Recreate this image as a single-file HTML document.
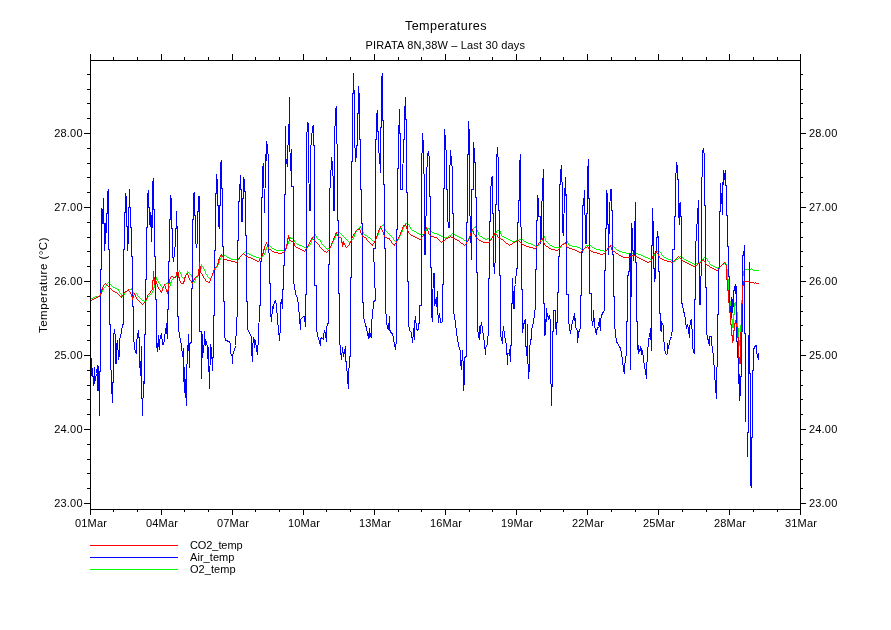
<!DOCTYPE html>
<html lang="en"><head><meta charset="utf-8"><title>Temperatures</title>
<style>html,body{margin:0;padding:0;background:#fff}body{width:891px;height:630px;overflow:hidden}svg{display:block}text{font-family:"Liberation Sans",sans-serif;fill:#000}</style></head><body>
<svg width="891" height="630" viewBox="0 0 891 630">
<rect width="891" height="630" fill="#fff"/>
<g fill="none" stroke-width="1" shape-rendering="crispEdges" stroke-linejoin="miter" stroke-linecap="square">
<path stroke="none" fill="#0f0" d="M91,298h1v1h-1zM92,298h1v1h-1zM93,297h1v1h-1zM94,297h1v1h-1zM95,296h1v1h-1zM96,296h1v1h-1zM97,296h1v1h-1zM98,296h1v1h-1zM99,295h1v1h-1zM100,294h1v2h-1zM101,292h1v2h-1zM102,290h1v2h-1zM103,288h1v2h-1zM104,287h1v1h-1zM105,286h1v1h-1zM106,284h1v2h-1zM107,283h1v1h-1zM108,282h1v1h-1zM109,283h1v1h-1zM110,284h1v1h-1zM111,285h1v1h-1zM112,286h1v1h-1zM113,287h1v1h-1zM114,287h1v1h-1zM115,288h1v1h-1zM116,288h1v1h-1zM117,289h1v1h-1zM118,289h1v2h-1zM119,291h1v2h-1zM120,293h1v1h-1zM121,294h1v2h-1zM122,296h1v1h-1zM123,295h1v1h-1zM124,293h1v2h-1zM125,292h1v1h-1zM126,291h1v1h-1zM127,290h1v1h-1zM128,290h1v1h-1zM129,289h1v1h-1zM130,289h1v1h-1zM131,288h1v2h-1zM132,290h1v2h-1zM133,292h1v2h-1zM134,294h1v1h-1zM135,294h1v1h-1zM136,293h1v1h-1zM137,294h1v2h-1zM138,296h1v1h-1zM139,297h1v1h-1zM140,298h1v1h-1zM141,299h1v1h-1zM142,300h1v1h-1zM143,300h1v1h-1zM144,301h1v1h-1zM145,301h1v2h-1zM146,299h1v2h-1zM147,297h1v2h-1zM148,296h1v1h-1zM149,295h1v1h-1zM150,294h1v1h-1zM151,293h1v1h-1zM152,291h1v2h-1zM153,287h1v4h-1zM154,283h1v5h-1zM155,279h1v5h-1zM156,277h1v3h-1zM157,279h1v2h-1zM158,281h1v2h-1zM159,283h1v1h-1zM160,284h1v2h-1zM161,286h1v1h-1zM162,287h1v1h-1zM163,286h1v1h-1zM164,285h1v1h-1zM165,284h1v1h-1zM166,283h1v1h-1zM167,282h1v2h-1zM168,284h1v3h-1zM169,286h1v2h-1zM170,282h1v4h-1zM171,280h1v3h-1zM172,279h1v1h-1zM173,278h1v1h-1zM174,277h1v1h-1zM175,276h1v1h-1zM176,276h1v1h-1zM177,274h1v2h-1zM178,272h1v2h-1zM179,270h1v2h-1zM180,272h1v2h-1zM181,274h1v3h-1zM182,277h1v1h-1zM183,278h1v1h-1zM184,278h1v2h-1zM185,275h1v3h-1zM186,273h1v2h-1zM187,271h1v2h-1zM188,272h1v1h-1zM189,273h1v1h-1zM190,274h1v1h-1zM191,275h1v2h-1zM192,277h1v2h-1zM193,279h1v3h-1zM194,281h1v2h-1zM195,278h1v3h-1zM196,276h1v2h-1zM197,275h1v1h-1zM198,273h1v2h-1zM199,272h1v1h-1zM200,268h1v4h-1zM201,264h1v5h-1zM202,266h1v1h-1zM203,267h1v2h-1zM204,269h1v2h-1zM205,271h1v3h-1zM206,274h1v1h-1zM207,275h1v2h-1zM208,277h1v1h-1zM209,278h1v1h-1zM210,278h1v2h-1zM211,276h1v2h-1zM212,274h1v2h-1zM213,272h1v2h-1zM214,270h1v2h-1zM215,268h1v2h-1zM216,267h1v1h-1zM217,265h1v2h-1zM218,263h1v2h-1zM219,260h1v3h-1zM220,258h1v2h-1zM221,256h1v2h-1zM222,255h1v1h-1zM223,254h1v1h-1zM224,255h1v1h-1zM225,255h1v1h-1zM226,256h1v1h-1zM227,257h1v1h-1zM228,257h1v1h-1zM229,258h1v1h-1zM230,258h1v1h-1zM231,259h1v1h-1zM232,259h1v1h-1zM233,259h1v1h-1zM234,259h1v1h-1zM235,259h1v1h-1zM236,259h1v1h-1zM237,259h1v1h-1zM238,258h1v1h-1zM239,257h1v1h-1zM240,256h1v1h-1zM241,255h1v1h-1zM242,254h1v1h-1zM243,253h1v1h-1zM244,252h1v1h-1zM245,251h1v1h-1zM246,252h1v1h-1zM247,253h1v1h-1zM248,253h1v1h-1zM249,254h1v1h-1zM250,254h1v1h-1zM251,255h1v1h-1zM252,255h1v1h-1zM253,256h1v1h-1zM254,256h1v1h-1zM255,256h1v1h-1zM256,257h1v1h-1zM257,257h1v1h-1zM258,257h1v1h-1zM259,258h1v1h-1zM260,258h1v1h-1zM261,257h1v1h-1zM262,256h1v1h-1zM263,255h1v1h-1zM264,253h1v2h-1zM265,249h1v4h-1zM266,247h1v3h-1zM267,245h1v2h-1zM268,244h1v1h-1zM269,245h1v1h-1zM270,246h1v1h-1zM271,247h1v1h-1zM272,248h1v1h-1zM273,248h1v1h-1zM274,249h1v1h-1zM275,249h1v1h-1zM276,250h1v1h-1zM277,250h1v1h-1zM278,250h1v1h-1zM279,250h1v1h-1zM280,250h1v1h-1zM281,250h1v1h-1zM282,250h1v1h-1zM283,250h1v1h-1zM284,249h1v1h-1zM285,248h1v1h-1zM286,246h1v2h-1zM287,244h1v2h-1zM288,241h1v3h-1zM289,239h1v2h-1zM290,237h1v2h-1zM291,238h1v1h-1zM292,238h1v1h-1zM293,239h1v1h-1zM294,240h1v2h-1zM295,242h1v1h-1zM296,243h1v1h-1zM297,244h1v1h-1zM298,244h1v1h-1zM299,245h1v1h-1zM300,245h1v1h-1zM301,245h1v1h-1zM302,246h1v1h-1zM303,246h1v1h-1zM304,247h1v1h-1zM305,247h1v1h-1zM306,248h1v1h-1zM307,247h1v1h-1zM308,246h1v1h-1zM309,245h1v1h-1zM310,243h1v2h-1zM311,240h1v3h-1zM312,238h1v2h-1zM313,236h1v2h-1zM314,235h1v1h-1zM315,234h1v2h-1zM316,236h1v2h-1zM317,238h1v1h-1zM318,239h1v1h-1zM319,239h1v1h-1zM320,240h1v2h-1zM321,242h1v2h-1zM322,244h1v1h-1zM323,245h1v1h-1zM324,246h1v1h-1zM325,247h1v1h-1zM326,248h1v1h-1zM327,249h1v1h-1zM328,248h1v1h-1zM329,248h1v1h-1zM330,246h1v2h-1zM331,244h1v2h-1zM332,242h1v2h-1zM333,240h1v2h-1zM334,238h1v2h-1zM335,236h1v2h-1zM336,233h1v3h-1zM337,232h1v1h-1zM338,232h1v1h-1zM339,232h1v1h-1zM340,233h1v1h-1zM341,234h1v1h-1zM342,235h1v1h-1zM343,236h1v1h-1zM344,237h1v1h-1zM345,238h1v1h-1zM346,239h1v1h-1zM347,240h1v1h-1zM348,241h1v1h-1zM349,242h1v1h-1zM350,241h1v1h-1zM351,240h1v1h-1zM352,239h1v1h-1zM353,237h1v2h-1zM354,234h1v3h-1zM355,232h1v2h-1zM356,230h1v2h-1zM357,229h1v1h-1zM358,228h1v1h-1zM359,227h1v1h-1zM360,226h1v2h-1zM361,228h1v2h-1zM362,230h1v2h-1zM363,232h1v2h-1zM364,234h1v1h-1zM365,235h1v1h-1zM366,235h1v1h-1zM367,236h1v1h-1zM368,237h1v1h-1zM369,237h1v1h-1zM370,238h1v1h-1zM371,239h1v1h-1zM372,240h1v1h-1zM373,241h1v1h-1zM374,241h1v2h-1zM375,239h1v2h-1zM376,237h1v2h-1zM377,235h1v2h-1zM378,232h1v3h-1zM379,229h1v3h-1zM380,227h1v2h-1zM381,226h1v1h-1zM382,225h1v1h-1zM383,224h1v2h-1zM384,226h1v3h-1zM385,229h1v2h-1zM386,231h1v1h-1zM387,232h1v1h-1zM388,233h1v1h-1zM389,234h1v1h-1zM390,235h1v1h-1zM391,236h1v1h-1zM392,237h1v1h-1zM393,238h1v2h-1zM394,240h1v1h-1zM395,241h1v1h-1zM396,241h1v2h-1zM397,240h1v1h-1zM398,238h1v2h-1zM399,236h1v2h-1zM400,234h1v2h-1zM401,232h1v2h-1zM402,229h1v3h-1zM403,227h1v2h-1zM404,225h1v2h-1zM405,223h1v2h-1zM406,223h1v1h-1zM407,222h1v2h-1zM408,224h1v1h-1zM409,225h1v2h-1zM410,227h1v2h-1zM411,229h1v1h-1zM412,230h1v1h-1zM413,230h1v1h-1zM414,231h1v1h-1zM415,231h1v1h-1zM416,232h1v1h-1zM417,233h1v1h-1zM418,233h1v1h-1zM419,234h1v1h-1zM420,234h1v1h-1zM421,235h1v1h-1zM422,234h1v1h-1zM423,234h1v1h-1zM424,232h1v2h-1zM425,231h1v1h-1zM426,229h1v2h-1zM427,228h1v1h-1zM428,228h1v1h-1zM429,228h1v2h-1zM430,230h1v1h-1zM431,231h1v1h-1zM432,232h1v1h-1zM433,232h1v1h-1zM434,233h1v1h-1zM435,233h1v1h-1zM436,233h1v1h-1zM437,234h1v1h-1zM438,234h1v1h-1zM439,235h1v1h-1zM440,235h1v1h-1zM441,236h1v1h-1zM442,236h1v1h-1zM443,237h1v1h-1zM444,237h1v1h-1zM445,238h1v1h-1zM446,237h1v1h-1zM447,237h1v1h-1zM448,236h1v1h-1zM449,235h1v1h-1zM450,235h1v1h-1zM451,234h1v1h-1zM452,233h1v1h-1zM453,234h1v1h-1zM454,234h1v1h-1zM455,235h1v1h-1zM456,235h1v1h-1zM457,236h1v1h-1zM458,236h1v1h-1zM459,237h1v1h-1zM460,237h1v1h-1zM461,238h1v1h-1zM462,238h1v1h-1zM463,239h1v1h-1zM464,240h1v1h-1zM465,240h1v1h-1zM466,241h1v1h-1zM467,240h1v1h-1zM468,238h1v2h-1zM469,237h1v1h-1zM470,235h1v2h-1zM471,231h1v4h-1zM472,229h1v3h-1zM473,228h1v1h-1zM474,227h1v1h-1zM475,226h1v2h-1zM476,228h1v2h-1zM477,230h1v2h-1zM478,232h1v3h-1zM479,235h1v1h-1zM480,236h1v1h-1zM481,236h1v1h-1zM482,237h1v1h-1zM483,238h1v1h-1zM484,238h1v1h-1zM485,239h1v1h-1zM486,239h1v1h-1zM487,238h1v1h-1zM488,238h1v1h-1zM489,239h1v1h-1zM490,239h1v1h-1zM491,238h1v1h-1zM492,237h1v1h-1zM493,236h1v1h-1zM494,234h1v2h-1zM495,233h1v1h-1zM496,231h1v2h-1zM497,230h1v1h-1zM498,230h1v1h-1zM499,229h1v2h-1zM500,231h1v3h-1zM501,234h1v2h-1zM502,236h1v1h-1zM503,236h1v1h-1zM504,237h1v1h-1zM505,237h1v1h-1zM506,238h1v1h-1zM507,238h1v1h-1zM508,239h1v1h-1zM509,239h1v1h-1zM510,240h1v1h-1zM511,240h1v1h-1zM512,241h1v1h-1zM513,241h1v1h-1zM514,241h1v1h-1zM515,241h1v1h-1zM516,240h1v1h-1zM517,240h1v1h-1zM518,240h1v1h-1zM519,239h1v1h-1zM520,239h1v1h-1zM521,238h1v1h-1zM522,239h1v1h-1zM523,240h1v1h-1zM524,241h1v1h-1zM525,241h1v1h-1zM526,242h1v1h-1zM527,242h1v1h-1zM528,243h1v1h-1zM529,243h1v1h-1zM530,243h1v1h-1zM531,244h1v1h-1zM532,244h1v1h-1zM533,245h1v1h-1zM534,245h1v1h-1zM535,246h1v1h-1zM536,246h1v1h-1zM537,245h1v1h-1zM538,245h1v1h-1zM539,244h1v1h-1zM540,242h1v2h-1zM541,241h1v1h-1zM542,239h1v2h-1zM543,237h1v2h-1zM544,236h1v2h-1zM545,238h1v3h-1zM546,241h1v1h-1zM547,242h1v1h-1zM548,243h1v1h-1zM549,244h1v1h-1zM550,245h1v1h-1zM551,245h1v1h-1zM552,246h1v1h-1zM553,246h1v1h-1zM554,247h1v1h-1zM555,247h1v1h-1zM556,247h1v1h-1zM557,247h1v1h-1zM558,247h1v1h-1zM559,247h1v1h-1zM560,247h1v1h-1zM561,245h1v2h-1zM562,244h1v1h-1zM563,243h1v1h-1zM564,243h1v1h-1zM565,242h1v1h-1zM566,242h1v1h-1zM567,241h1v2h-1zM568,243h1v2h-1zM569,245h1v1h-1zM570,245h1v1h-1zM571,245h1v1h-1zM572,246h1v1h-1zM573,246h1v1h-1zM574,246h1v1h-1zM575,246h1v1h-1zM576,246h1v1h-1zM577,247h1v1h-1zM578,247h1v1h-1zM579,247h1v1h-1zM580,248h1v1h-1zM581,249h1v1h-1zM582,249h1v1h-1zM583,249h1v2h-1zM584,248h1v1h-1zM585,246h1v2h-1zM586,245h1v1h-1zM587,245h1v1h-1zM588,245h1v1h-1zM589,245h1v1h-1zM590,245h1v1h-1zM591,246h1v1h-1zM592,247h1v1h-1zM593,247h1v1h-1zM594,248h1v1h-1zM595,248h1v1h-1zM596,249h1v1h-1zM597,249h1v1h-1zM598,249h1v1h-1zM599,249h1v1h-1zM600,250h1v1h-1zM601,250h1v1h-1zM602,250h1v1h-1zM603,250h1v1h-1zM604,251h1v1h-1zM605,251h1v1h-1zM606,250h1v1h-1zM607,249h1v1h-1zM608,248h1v1h-1zM609,247h1v1h-1zM610,246h1v1h-1zM611,245h1v1h-1zM612,246h1v1h-1zM613,246h1v1h-1zM614,247h1v1h-1zM615,248h1v1h-1zM616,249h1v1h-1zM617,250h1v1h-1zM618,250h1v1h-1zM619,251h1v1h-1zM620,251h1v1h-1zM621,251h1v1h-1zM622,252h1v1h-1zM623,252h1v1h-1zM624,252h1v1h-1zM625,252h1v1h-1zM626,253h1v1h-1zM627,253h1v1h-1zM628,253h1v1h-1zM629,253h1v1h-1zM630,253h1v1h-1zM631,253h1v1h-1zM632,253h1v1h-1zM633,253h1v1h-1zM634,253h1v1h-1zM635,253h1v1h-1zM636,253h1v1h-1zM637,253h1v1h-1zM638,254h1v1h-1zM639,254h1v1h-1zM640,254h1v1h-1zM641,255h1v1h-1zM642,255h1v1h-1zM643,256h1v1h-1zM644,256h1v1h-1zM645,257h1v1h-1zM646,257h1v1h-1zM647,257h1v1h-1zM648,258h1v1h-1zM649,258h1v1h-1zM650,259h1v1h-1zM651,259h1v1h-1zM652,257h1v2h-1zM653,256h1v1h-1zM654,254h1v2h-1zM655,252h1v2h-1zM656,251h1v1h-1zM657,251h1v1h-1zM658,250h1v1h-1zM659,251h1v1h-1zM660,252h1v1h-1zM661,253h1v2h-1zM662,255h1v1h-1zM663,256h1v1h-1zM664,257h1v1h-1zM665,257h1v1h-1zM666,258h1v1h-1zM667,258h1v1h-1zM668,259h1v1h-1zM669,259h1v1h-1zM670,259h1v1h-1zM671,260h1v1h-1zM672,260h1v1h-1zM673,261h1v1h-1zM674,261h1v1h-1zM675,260h1v1h-1zM676,259h1v1h-1zM677,259h1v1h-1zM678,258h1v1h-1zM679,257h1v1h-1zM680,256h1v1h-1zM681,257h1v1h-1zM682,257h1v1h-1zM683,258h1v1h-1zM684,259h1v1h-1zM685,259h1v1h-1zM686,260h1v1h-1zM687,260h1v1h-1zM688,261h1v1h-1zM689,261h1v1h-1zM690,262h1v1h-1zM691,262h1v1h-1zM692,263h1v1h-1zM693,263h1v1h-1zM694,264h1v1h-1zM695,264h1v1h-1zM696,263h1v1h-1zM697,263h1v1h-1zM698,262h1v1h-1zM699,262h1v1h-1zM700,261h1v1h-1zM701,260h1v1h-1zM702,259h1v1h-1zM703,258h1v1h-1zM704,257h1v1h-1zM705,256h1v2h-1zM706,258h1v1h-1zM707,259h1v2h-1zM708,261h1v1h-1zM709,262h1v2h-1zM710,264h1v1h-1zM711,265h1v1h-1zM712,265h1v1h-1zM713,266h1v1h-1zM714,266h1v1h-1zM715,267h1v1h-1zM716,267h1v1h-1zM717,268h1v1h-1zM718,267h1v1h-1zM719,266h1v1h-1zM720,266h1v1h-1zM721,265h1v1h-1zM722,264h1v1h-1zM723,264h1v1h-1zM724,263h1v1h-1zM725,262h1v2h-1zM726,264h1v6h-1zM727,269h1v11h-1zM728,279h1v13h-1zM729,291h1v11h-1zM730,301h1v9h-1zM731,309h1v11h-1zM732,319h1v9h-1zM733,314h1v14h-1zM734,303h1v12h-1zM735,302h1v4h-1zM736,305h1v8h-1zM737,312h1v17h-1zM738,328h1v13h-1zM739,340h1v6h-1zM740,325h1v21h-1zM741,300h1v26h-1zM742,276h1v25h-1zM743,271h1v5h-1zM744,269h1v2h-1zM745,269h1v1h-1zM746,269h1v1h-1zM747,269h1v1h-1zM748,269h1v1h-1zM749,269h1v1h-1zM750,269h1v1h-1zM751,268h1v1h-1zM752,269h1v1h-1zM753,270h1v1h-1zM754,270h1v1h-1zM755,270h1v1h-1zM756,270h1v1h-1zM757,270h1v1h-1zM758,270h1v1h-1z"/>
<polyline stroke="#00f" points="90.5,351.5 91.5,363.5 91.5,375.5 92.5,368.5 93.5,385.5 94.5,367.5 94.5,383.5 96.5,373.5 97.5,365.5 97.5,390.5 98.5,366.5 99.5,415.5 99.5,371.5 100.5,371.5 100.5,269.5 101.5,269.5 101.5,208.5 102.5,210.5 102.5,223.5 103.5,223.5 103.5,197.5 103.5,223.5 104.5,223.5 104.5,250.5 105.5,238.5 105.5,223.5 106.5,232.5 106.5,213.5 107.5,213.5 107.5,193.5 108.5,189.5 108.5,249.5 109.5,249.5 109.5,324.5 110.5,324.5 110.5,353.5 111.5,385.5 112.5,402.5 113.5,363.5 113.5,337.5 114.5,329.5 115.5,337.5 115.5,363.5 116.5,363.5 116.5,345.5 117.5,340.5 118.5,359.5 119.5,354.5 119.5,340.5 121.5,331.5 122.5,324.5 123.5,324.5 123.5,249.5 124.5,249.5 124.5,212.5 125.5,212.5 125.5,193.5 126.5,199.5 126.5,226.5 127.5,226.5 127.5,250.5 128.5,238.5 128.5,207.5 129.5,207.5 129.5,188.5 129.5,207.5 130.5,207.5 130.5,227.5 131.5,227.5 131.5,256.5 132.5,256.5 132.5,306.5 133.5,306.5 133.5,334.5 134.5,348.5 135.5,351.5 136.5,353.5 136.5,342.5 137.5,335.5 138.5,330.5 138.5,337.5 139.5,337.5 139.5,359.5 140.5,375.5 141.5,346.5 141.5,381.5 142.5,415.5 143.5,381.5 143.5,396.5 144.5,371.5 144.5,334.5 145.5,334.5 145.5,279.5 146.5,279.5 146.5,227.5 147.5,227.5 147.5,195.5 148.5,190.5 148.5,207.5 149.5,207.5 149.5,224.5 150.5,212.5 150.5,226.5 151.5,215.5 151.5,241.5 152.5,215.5 152.5,184.5 153.5,178.5 153.5,209.5 154.5,209.5 154.5,256.5 155.5,256.5 155.5,299.5 156.5,299.5 156.5,344.5 157.5,351.5 158.5,335.5 158.5,343.5 159.5,349.5 159.5,342.5 160.5,336.5 161.5,333.5 162.5,344.5 163.5,344.5 164.5,340.5 165.5,328.5 166.5,333.5 166.5,323.5 167.5,338.5 167.5,309.5 168.5,309.5 168.5,261.5 169.5,261.5 169.5,219.5 170.5,219.5 170.5,195.5 171.5,200.5 171.5,228.5 172.5,228.5 172.5,253.5 173.5,261.5 174.5,253.5 175.5,240.5 175.5,228.5 176.5,228.5 176.5,211.5 177.5,240.5 177.5,316.5 178.5,316.5 178.5,329.5 179.5,334.5 180.5,340.5 181.5,345.5 182.5,356.5 183.5,348.5 183.5,371.5 184.5,392.5 184.5,367.5 185.5,390.5 186.5,405.5 186.5,373.5 188.5,336.5 188.5,334.5 189.5,367.5 189.5,343.5 191.5,342.5 191.5,334.5 191.5,288.5 192.5,288.5 192.5,219.5 193.5,219.5 193.5,194.5 194.5,192.5 194.5,215.5 195.5,215.5 195.5,240.5 196.5,247.5 197.5,240.5 197.5,211.5 198.5,211.5 198.5,196.5 199.5,196.5 199.5,331.5 201.5,331.5 201.5,378.5 201.5,332.5 202.5,335.5 202.5,357.5 204.5,340.5 204.5,331.5 205.5,345.5 206.5,342.5 207.5,346.5 208.5,371.5 208.5,347.5 209.5,388.5 210.5,344.5 210.5,361.5 211.5,347.5 212.5,370.5 212.5,357.5 213.5,357.5 213.5,315.5 214.5,315.5 214.5,250.5 215.5,250.5 215.5,193.5 216.5,193.5 216.5,174.5 217.5,182.5 217.5,205.5 218.5,205.5 218.5,224.5 219.5,228.5 219.5,205.5 220.5,205.5 220.5,163.5 221.5,160.5 221.5,188.5 222.5,188.5 222.5,246.5 223.5,246.5 223.5,301.5 224.5,301.5 224.5,334.5 225.5,340.5 229.5,341.5 230.5,344.5 230.5,353.5 232.5,356.5 232.5,363.5 232.5,356.5 233.5,351.5 234.5,350.5 235.5,345.5 236.5,327.5 237.5,306.5 237.5,240.5 238.5,240.5 238.5,201.5 239.5,201.5 239.5,184.5 240.5,184.5 240.5,174.5 240.5,189.5 241.5,189.5 241.5,221.5 242.5,221.5 242.5,198.5 243.5,198.5 243.5,177.5 244.5,180.5 244.5,191.5 245.5,191.5 245.5,235.5 246.5,235.5 246.5,301.5 247.5,301.5 247.5,329.5 249.5,332.5 251.5,337.5 251.5,349.5 252.5,361.5 252.5,349.5 253.5,337.5 254.5,347.5 254.5,339.5 255.5,340.5 256.5,349.5 257.5,354.5 257.5,349.5 258.5,340.5 259.5,305.5 260.5,305.5 260.5,261.5 261.5,261.5 261.5,197.5 262.5,197.5 262.5,169.5 263.5,163.5 264.5,212.5 265.5,166.5 266.5,141.5 266.5,160.5 267.5,144.5 268.5,162.5 268.5,218.5 269.5,283.5 270.5,283.5 270.5,312.5 271.5,321.5 272.5,306.5 272.5,311.5 274.5,301.5 275.5,300.5 276.5,305.5 277.5,320.5 278.5,329.5 279.5,340.5 280.5,325.5 280.5,305.5 281.5,299.5 282.5,308.5 282.5,290.5 283.5,288.5 283.5,265.5 284.5,265.5 284.5,194.5 285.5,194.5 285.5,125.5 285.5,169.5 286.5,159.5 287.5,166.5 288.5,125.5 288.5,124.5 289.5,124.5 289.5,96.5 289.5,133.5 290.5,170.5 291.5,149.5 291.5,186.5 293.5,186.5 293.5,280.5 294.5,286.5 295.5,293.5 297.5,298.5 298.5,305.5 299.5,317.5 300.5,329.5 300.5,319.5 302.5,317.5 303.5,316.5 304.5,316.5 305.5,326.5 305.5,294.5 306.5,294.5 306.5,141.5 307.5,122.5 308.5,123.5 308.5,155.5 309.5,210.5 310.5,210.5 310.5,151.5 312.5,127.5 313.5,125.5 313.5,145.5 314.5,145.5 314.5,285.5 316.5,285.5 316.5,327.5 317.5,335.5 318.5,338.5 320.5,345.5 320.5,339.5 321.5,337.5 323.5,339.5 323.5,334.5 324.5,331.5 325.5,333.5 326.5,341.5 326.5,328.5 327.5,323.5 328.5,323.5 328.5,264.5 329.5,264.5 329.5,192.5 330.5,183.5 331.5,157.5 332.5,163.5 333.5,188.5 333.5,210.5 334.5,210.5 334.5,142.5 335.5,110.5 336.5,106.5 336.5,142.5 337.5,145.5 337.5,220.5 338.5,220.5 338.5,293.5 339.5,293.5 339.5,339.5 340.5,350.5 341.5,359.5 342.5,347.5 343.5,356.5 345.5,346.5 345.5,360.5 346.5,362.5 347.5,379.5 348.5,388.5 348.5,379.5 349.5,356.5 350.5,356.5 350.5,277.5 351.5,277.5 351.5,161.5 352.5,161.5 352.5,93.5 353.5,93.5 353.5,72.5 353.5,90.5 354.5,90.5 354.5,134.5 355.5,161.5 356.5,155.5 356.5,145.5 357.5,145.5 357.5,113.5 358.5,113.5 358.5,85.5 358.5,93.5 359.5,93.5 359.5,139.5 360.5,139.5 360.5,189.5 361.5,189.5 361.5,223.5 362.5,223.5 362.5,302.5 363.5,302.5 363.5,315.5 364.5,321.5 365.5,324.5 366.5,328.5 368.5,338.5 368.5,333.5 369.5,337.5 369.5,328.5 370.5,336.5 371.5,337.5 371.5,321.5 372.5,316.5 373.5,301.5 375.5,300.5 373.5,248.5 375.5,248.5 375.5,139.5 376.5,139.5 376.5,116.5 377.5,110.5 377.5,131.5 378.5,131.5 378.5,151.5 379.5,154.5 380.5,172.5 380.5,127.5 381.5,127.5 381.5,79.5 382.5,73.5 382.5,120.5 383.5,120.5 383.5,184.5 384.5,184.5 384.5,248.5 385.5,248.5 385.5,306.5 386.5,320.5 387.5,328.5 388.5,329.5 389.5,316.5 389.5,328.5 390.5,332.5 392.5,333.5 393.5,338.5 394.5,344.5 395.5,349.5 396.5,338.5 396.5,229.5 397.5,229.5 397.5,168.5 398.5,168.5 398.5,125.5 399.5,125.5 399.5,108.5 399.5,133.5 400.5,133.5 400.5,189.5 402.5,189.5 403.5,139.5 404.5,139.5 404.5,106.5 405.5,106.5 405.5,96.5 405.5,119.5 406.5,119.5 406.5,192.5 407.5,192.5 407.5,281.5 408.5,281.5 408.5,322.5 409.5,330.5 411.5,332.5 412.5,342.5 413.5,331.5 413.5,328.5 414.5,339.5 414.5,324.5 415.5,316.5 416.5,328.5 417.5,330.5 418.5,329.5 418.5,323.5 419.5,323.5 419.5,305.5 421.5,305.5 421.5,173.5 422.5,133.5 423.5,146.5 424.5,200.5 424.5,239.5 424.5,254.5 425.5,254.5 426.5,180.5 427.5,154.5 428.5,152.5 429.5,158.5 429.5,196.5 430.5,196.5 430.5,267.5 431.5,267.5 431.5,313.5 432.5,321.5 432.5,304.5 433.5,273.5 434.5,273.5 434.5,305.5 436.5,297.5 436.5,306.5 437.5,291.5 437.5,307.5 438.5,322.5 439.5,313.5 440.5,322.5 441.5,322.5 442.5,321.5 442.5,284.5 443.5,284.5 443.5,188.5 444.5,188.5 444.5,129.5 445.5,139.5 446.5,160.5 446.5,189.5 447.5,189.5 447.5,216.5 448.5,227.5 449.5,227.5 449.5,180.5 450.5,150.5 451.5,160.5 452.5,170.5 452.5,213.5 453.5,213.5 453.5,283.5 453.5,311.5 455.5,322.5 456.5,333.5 457.5,338.5 458.5,345.5 460.5,351.5 460.5,361.5 461.5,369.5 462.5,350.5 463.5,370.5 463.5,390.5 464.5,379.5 464.5,357.5 466.5,356.5 466.5,304.5 466.5,222.5 467.5,222.5 467.5,154.5 468.5,154.5 468.5,121.5 469.5,135.5 469.5,195.5 470.5,235.5 471.5,250.5 471.5,259.5 471.5,189.5 473.5,189.5 473.5,142.5 474.5,152.5 474.5,162.5 475.5,162.5 475.5,197.5 476.5,197.5 476.5,272.5 477.5,272.5 477.5,326.5 478.5,337.5 479.5,326.5 479.5,339.5 480.5,328.5 481.5,322.5 482.5,329.5 483.5,335.5 484.5,343.5 485.5,354.5 485.5,348.5 487.5,343.5 487.5,336.5 488.5,335.5 488.5,278.5 489.5,278.5 489.5,221.5 490.5,221.5 490.5,194.5 491.5,178.5 492.5,176.5 492.5,213.5 493.5,213.5 493.5,260.5 494.5,273.5 495.5,252.5 495.5,204.5 496.5,204.5 496.5,161.5 497.5,147.5 498.5,166.5 498.5,210.5 499.5,210.5 499.5,275.5 500.5,275.5 500.5,335.5 501.5,338.5 502.5,343.5 502.5,336.5 503.5,326.5 504.5,334.5 505.5,340.5 506.5,345.5 507.5,364.5 507.5,353.5 509.5,353.5 509.5,349.5 510.5,361.5 510.5,345.5 511.5,345.5 511.5,303.5 512.5,303.5 512.5,277.5 512.5,303.5 513.5,291.5 513.5,308.5 514.5,308.5 514.5,287.5 515.5,284.5 516.5,268.5 517.5,268.5 517.5,222.5 518.5,222.5 518.5,200.5 519.5,200.5 519.5,166.5 520.5,154.5 520.5,214.5 521.5,238.5 521.5,289.5 522.5,289.5 522.5,332.5 523.5,325.5 524.5,321.5 525.5,319.5 525.5,337.5 526.5,355.5 527.5,337.5 527.5,323.5 527.5,349.5 528.5,378.5 529.5,365.5 529.5,351.5 530.5,339.5 531.5,339.5 531.5,328.5 532.5,327.5 533.5,321.5 535.5,306.5 535.5,269.5 536.5,269.5 536.5,220.5 537.5,220.5 537.5,195.5 538.5,200.5 538.5,216.5 540.5,216.5 540.5,235.5 540.5,243.5 541.5,235.5 541.5,215.5 542.5,187.5 543.5,169.5 543.5,303.5 544.5,303.5 544.5,335.5 544.5,303.5 545.5,334.5 546.5,308.5 546.5,321.5 547.5,313.5 548.5,318.5 549.5,316.5 550.5,321.5 550.5,361.5 551.5,405.5 552.5,368.5 552.5,331.5 553.5,331.5 553.5,310.5 555.5,310.5 555.5,322.5 556.5,334.5 556.5,322.5 557.5,322.5 557.5,292.5 558.5,292.5 558.5,256.5 559.5,256.5 559.5,184.5 560.5,184.5 560.5,172.5 561.5,165.5 562.5,197.5 562.5,229.5 563.5,235.5 563.5,229.5 564.5,198.5 565.5,177.5 565.5,195.5 566.5,194.5 566.5,294.5 567.5,294.5 568.5,294.5 568.5,320.5 569.5,327.5 570.5,333.5 571.5,327.5 572.5,321.5 573.5,318.5 574.5,313.5 574.5,320.5 575.5,318.5 575.5,326.5 577.5,331.5 577.5,342.5 578.5,333.5 579.5,329.5 580.5,328.5 580.5,295.5 581.5,295.5 581.5,252.5 582.5,252.5 582.5,205.5 583.5,205.5 584.5,190.5 584.5,214.5 585.5,215.5 585.5,243.5 586.5,243.5 586.5,213.5 587.5,213.5 587.5,173.5 588.5,159.5 588.5,198.5 589.5,198.5 589.5,293.5 590.5,293.5 591.5,293.5 591.5,315.5 592.5,325.5 593.5,319.5 593.5,310.5 594.5,325.5 595.5,330.5 596.5,334.5 596.5,330.5 598.5,326.5 599.5,318.5 599.5,323.5 600.5,330.5 600.5,321.5 601.5,315.5 603.5,311.5 604.5,310.5 604.5,270.5 605.5,270.5 605.5,228.5 606.5,228.5 606.5,190.5 607.5,195.5 607.5,224.5 608.5,224.5 608.5,254.5 609.5,214.5 610.5,189.5 611.5,189.5 611.5,210.5 612.5,210.5 612.5,254.5 613.5,254.5 613.5,296.5 614.5,296.5 614.5,323.5 615.5,334.5 616.5,341.5 617.5,343.5 619.5,346.5 620.5,348.5 621.5,352.5 622.5,360.5 623.5,369.5 624.5,373.5 624.5,369.5 625.5,356.5 626.5,355.5 626.5,321.5 627.5,321.5 627.5,275.5 628.5,275.5 628.5,271.5 629.5,271.5 629.5,253.5 630.5,253.5 630.5,369.5 630.5,296.5 631.5,296.5 631.5,223.5 632.5,231.5 632.5,250.5 633.5,250.5 633.5,260.5 634.5,251.5 634.5,221.5 635.5,221.5 635.5,201.5 635.5,262.5 636.5,262.5 636.5,321.5 637.5,321.5 637.5,345.5 638.5,353.5 638.5,345.5 639.5,351.5 640.5,346.5 640.5,350.5 641.5,348.5 641.5,354.5 642.5,350.5 643.5,359.5 644.5,366.5 645.5,371.5 646.5,378.5 646.5,370.5 647.5,354.5 648.5,339.5 649.5,337.5 650.5,328.5 651.5,350.5 651.5,328.5 651.5,245.5 652.5,245.5 652.5,208.5 653.5,232.5 653.5,249.5 653.5,268.5 654.5,268.5 654.5,281.5 655.5,276.5 655.5,264.5 656.5,237.5 657.5,237.5 657.5,231.5 658.5,239.5 658.5,271.5 659.5,271.5 659.5,313.5 660.5,313.5 660.5,330.5 661.5,331.5 661.5,321.5 663.5,326.5 663.5,335.5 664.5,347.5 665.5,353.5 666.5,354.5 667.5,353.5 667.5,343.5 668.5,348.5 669.5,341.5 670.5,338.5 671.5,336.5 672.5,327.5 672.5,249.5 674.5,249.5 674.5,216.5 675.5,216.5 675.5,183.5 676.5,162.5 677.5,168.5 677.5,179.5 678.5,179.5 678.5,210.5 679.5,224.5 679.5,204.5 680.5,202.5 680.5,216.5 681.5,216.5 681.5,302.5 682.5,304.5 683.5,311.5 684.5,313.5 685.5,320.5 686.5,328.5 687.5,324.5 688.5,329.5 689.5,337.5 689.5,328.5 690.5,321.5 691.5,319.5 691.5,328.5 692.5,329.5 692.5,344.5 693.5,352.5 694.5,353.5 694.5,299.5 695.5,299.5 695.5,249.5 696.5,233.5 697.5,215.5 698.5,200.5 698.5,252.5 699.5,275.5 699.5,304.5 700.5,304.5 701.5,249.5 701.5,203.5 702.5,152.5 703.5,148.5 704.5,156.5 704.5,205.5 705.5,205.5 705.5,287.5 706.5,287.5 706.5,331.5 707.5,337.5 708.5,341.5 709.5,345.5 709.5,336.5 711.5,336.5 711.5,343.5 712.5,348.5 713.5,356.5 714.5,372.5 715.5,386.5 716.5,398.5 716.5,370.5 717.5,364.5 717.5,314.5 718.5,314.5 718.5,268.5 719.5,268.5 719.5,211.5 720.5,211.5 720.5,182.5 720.5,210.5 721.5,193.5 722.5,214.5 722.5,193.5 723.5,170.5 723.5,184.5 724.5,176.5 725.5,170.5 725.5,185.5 726.5,185.5 726.5,215.5 727.5,215.5 727.5,246.5 728.5,246.5 728.5,276.5 729.5,276.5 729.5,306.5 730.5,306.5 730.5,324.5 731.5,311.5 731.5,297.5 732.5,301.5 732.5,312.5 733.5,302.5 733.5,290.5 734.5,290.5 734.5,288.5 735.5,284.5 735.5,293.5 736.5,286.5 736.5,341.5 737.5,341.5 737.5,357.5 738.5,357.5 738.5,383.5 739.5,374.5 739.5,400.5 740.5,392.5 740.5,376.5 741.5,376.5 741.5,331.5 742.5,331.5 742.5,255.5 743.5,255.5 743.5,251.5 744.5,251.5 744.5,244.5 744.5,333.5 745.5,333.5 745.5,421.5"/>
<polyline stroke="#00f" points="747.5,456.5 747.5,432.5 748.5,432.5 748.5,335.5 749.5,335.5 749.5,261.5 749.5,373.5 750.5,373.5 750.5,484.5 751.5,487.5 751.5,437.5 752.5,437.5 752.5,370.5 753.5,370.5 753.5,349.5 754.5,347.5 755.5,345.5 756.5,345.5 756.5,350.5 757.5,357.5 758.5,353.5 758.5,359.5"/>
<path stroke="none" fill="#f00" d="M90,300h1v1h-1zM91,300h1v1h-1zM92,299h1v1h-1zM93,299h1v1h-1zM94,298h1v1h-1zM95,298h1v1h-1zM96,297h1v1h-1zM97,297h1v1h-1zM98,296h1v1h-1zM99,296h1v1h-1zM100,293h1v3h-1zM101,289h1v5h-1zM102,287h1v3h-1zM103,285h1v2h-1zM104,284h1v1h-1zM105,283h1v1h-1zM106,284h1v1h-1zM107,285h1v1h-1zM108,286h1v1h-1zM109,287h1v1h-1zM110,288h1v1h-1zM111,289h1v1h-1zM112,290h1v1h-1zM113,291h1v1h-1zM114,291h1v1h-1zM115,292h1v1h-1zM116,292h1v1h-1zM117,293h1v1h-1zM118,294h1v1h-1zM119,295h1v1h-1zM120,296h1v1h-1zM121,296h1v2h-1zM122,295h1v1h-1zM123,293h1v2h-1zM124,292h1v1h-1zM125,291h1v1h-1zM126,291h1v1h-1zM127,290h1v1h-1zM128,289h1v2h-1zM129,291h1v1h-1zM130,292h1v2h-1zM131,294h1v3h-1zM132,296h1v4h-1zM133,295h1v3h-1zM134,293h1v2h-1zM135,295h1v2h-1zM136,297h1v2h-1zM137,299h1v1h-1zM138,300h1v1h-1zM139,301h1v1h-1zM140,302h1v1h-1zM141,303h1v1h-1zM142,304h1v1h-1zM143,303h1v1h-1zM144,302h1v1h-1zM145,300h1v2h-1zM146,298h1v2h-1zM147,295h1v3h-1zM148,294h1v1h-1zM149,293h1v1h-1zM150,291h1v2h-1zM151,290h1v1h-1zM152,280h1v10h-1zM153,271h1v10h-1zM154,277h1v8h-1zM155,279h1v4h-1zM156,281h1v3h-1zM157,284h1v3h-1zM158,287h1v2h-1zM159,289h1v1h-1zM160,290h1v2h-1zM161,291h1v2h-1zM162,288h1v3h-1zM163,286h1v2h-1zM164,284h1v2h-1zM165,286h1v3h-1zM166,289h1v3h-1zM167,290h1v4h-1zM168,283h1v8h-1zM169,279h1v5h-1zM170,277h1v2h-1zM171,276h1v1h-1zM172,276h1v1h-1zM173,277h1v1h-1zM174,277h1v1h-1zM175,276h1v2h-1zM176,272h1v4h-1zM177,270h1v3h-1zM178,272h1v6h-1zM179,277h1v4h-1zM180,281h1v2h-1zM181,283h1v1h-1zM182,283h1v1h-1zM183,281h1v3h-1zM184,277h1v5h-1zM185,275h1v3h-1zM186,274h1v1h-1zM187,273h1v2h-1zM188,275h1v3h-1zM189,278h1v2h-1zM190,280h1v1h-1zM191,281h1v2h-1zM192,282h1v2h-1zM193,280h1v2h-1zM194,278h1v2h-1zM195,277h1v1h-1zM196,276h1v1h-1zM197,276h1v1h-1zM198,269h1v7h-1zM199,262h1v8h-1zM200,266h1v7h-1zM201,273h1v1h-1zM202,274h1v2h-1zM203,276h1v2h-1zM204,278h1v1h-1zM205,279h1v2h-1zM206,281h1v1h-1zM207,281h1v1h-1zM208,282h1v1h-1zM209,281h1v2h-1zM210,278h1v3h-1zM211,276h1v2h-1zM212,273h1v3h-1zM213,270h1v3h-1zM214,268h1v2h-1zM215,267h1v1h-1zM216,266h1v1h-1zM217,263h1v3h-1zM218,259h1v5h-1zM219,257h1v3h-1zM220,255h1v2h-1zM221,254h1v2h-1zM222,256h1v1h-1zM223,257h1v2h-1zM224,259h1v1h-1zM225,259h1v1h-1zM226,259h1v1h-1zM227,260h1v1h-1zM228,260h1v1h-1zM229,260h1v1h-1zM230,260h1v1h-1zM231,261h1v1h-1zM232,261h1v1h-1zM233,261h1v1h-1zM234,261h1v1h-1zM235,262h1v1h-1zM236,262h1v1h-1zM237,260h1v2h-1zM238,259h1v1h-1zM239,257h1v2h-1zM240,256h1v1h-1zM241,255h1v1h-1zM242,254h1v1h-1zM243,253h1v1h-1zM244,254h1v1h-1zM245,255h1v1h-1zM246,256h1v1h-1zM247,256h1v1h-1zM248,257h1v1h-1zM249,257h1v1h-1zM250,257h1v1h-1zM251,258h1v1h-1zM252,258h1v1h-1zM253,259h1v1h-1zM254,259h1v1h-1zM255,260h1v1h-1zM256,260h1v1h-1zM257,261h1v1h-1zM258,261h1v1h-1zM259,259h1v2h-1zM260,258h1v1h-1zM261,256h1v2h-1zM262,253h1v3h-1zM263,249h1v5h-1zM264,246h1v4h-1zM265,244h1v2h-1zM266,242h1v2h-1zM267,244h1v3h-1zM268,247h1v2h-1zM269,249h1v1h-1zM270,249h1v1h-1zM271,250h1v1h-1zM272,251h1v1h-1zM273,251h1v1h-1zM274,252h1v1h-1zM275,252h1v1h-1zM276,252h1v1h-1zM277,252h1v1h-1zM278,253h1v1h-1zM279,253h1v1h-1zM280,253h1v1h-1zM281,253h1v1h-1zM282,252h1v1h-1zM283,252h1v1h-1zM284,251h1v1h-1zM285,248h1v3h-1zM286,244h1v5h-1zM287,238h1v7h-1zM288,235h1v4h-1zM289,237h1v4h-1zM290,240h1v1h-1zM291,241h1v1h-1zM292,241h1v1h-1zM293,241h1v2h-1zM294,243h1v3h-1zM295,246h1v1h-1zM296,247h1v1h-1zM297,247h1v1h-1zM298,248h1v1h-1zM299,248h1v1h-1zM300,249h1v1h-1zM301,249h1v1h-1zM302,250h1v1h-1zM303,250h1v1h-1zM304,251h1v1h-1zM305,249h1v2h-1zM306,248h1v1h-1zM307,246h1v2h-1zM308,244h1v2h-1zM309,242h1v2h-1zM310,240h1v2h-1zM311,238h1v2h-1zM312,237h1v2h-1zM313,239h1v1h-1zM314,240h1v1h-1zM315,241h1v1h-1zM316,242h1v1h-1zM317,243h1v1h-1zM318,244h1v1h-1zM319,245h1v2h-1zM320,247h1v1h-1zM321,248h1v1h-1zM322,249h1v1h-1zM323,250h1v1h-1zM324,251h1v1h-1zM325,251h1v1h-1zM326,252h1v1h-1zM327,251h1v1h-1zM328,250h1v1h-1zM329,248h1v2h-1zM330,246h1v2h-1zM331,243h1v3h-1zM332,241h1v2h-1zM333,238h1v3h-1zM334,236h1v2h-1zM335,233h1v3h-1zM336,232h1v2h-1zM337,234h1v2h-1zM338,236h1v1h-1zM339,237h1v1h-1zM340,237h1v1h-1zM341,238h1v5h-1zM342,242h1v5h-1zM343,241h1v4h-1zM344,243h1v2h-1zM345,245h1v2h-1zM346,247h1v1h-1zM347,246h1v1h-1zM348,245h1v1h-1zM349,243h1v2h-1zM350,241h1v2h-1zM351,238h1v3h-1zM352,236h1v2h-1zM353,234h1v2h-1zM354,233h1v1h-1zM355,231h1v2h-1zM356,230h1v1h-1zM357,229h1v1h-1zM358,229h1v1h-1zM359,228h1v2h-1zM360,230h1v3h-1zM361,233h1v2h-1zM362,235h1v2h-1zM363,236h1v1h-1zM364,237h1v1h-1zM365,237h1v1h-1zM366,238h1v2h-1zM367,240h1v1h-1zM368,241h1v1h-1zM369,242h1v1h-1zM370,243h1v1h-1zM371,244h1v1h-1zM372,244h1v2h-1zM373,243h1v1h-1zM374,241h1v2h-1zM375,239h1v2h-1zM376,236h1v3h-1zM377,233h1v3h-1zM378,230h1v3h-1zM379,228h1v2h-1zM380,226h1v2h-1zM381,228h1v2h-1zM382,230h1v2h-1zM383,232h1v3h-1zM384,235h1v2h-1zM385,237h1v1h-1zM386,237h1v1h-1zM387,238h1v1h-1zM388,238h1v1h-1zM389,238h1v2h-1zM390,240h1v1h-1zM391,241h1v2h-1zM392,243h1v1h-1zM393,244h1v1h-1zM394,244h1v2h-1zM395,243h1v1h-1zM396,241h1v2h-1zM397,239h1v2h-1zM398,237h1v2h-1zM399,235h1v2h-1zM400,232h1v3h-1zM401,230h1v2h-1zM402,227h1v3h-1zM403,225h1v2h-1zM404,225h1v1h-1zM405,224h1v2h-1zM406,226h1v3h-1zM407,229h1v2h-1zM408,231h1v2h-1zM409,233h1v1h-1zM410,234h1v1h-1zM411,235h1v1h-1zM412,235h1v1h-1zM413,236h1v1h-1zM414,236h1v1h-1zM415,237h1v1h-1zM416,237h1v1h-1zM417,238h1v1h-1zM418,238h1v1h-1zM419,239h1v1h-1zM420,239h1v1h-1zM421,237h1v2h-1zM422,236h1v1h-1zM423,234h1v2h-1zM424,231h1v3h-1zM425,229h1v2h-1zM426,227h1v2h-1zM427,229h1v2h-1zM428,231h1v3h-1zM429,234h1v1h-1zM430,235h1v1h-1zM431,236h1v1h-1zM432,236h1v1h-1zM433,236h1v1h-1zM434,237h1v1h-1zM435,237h1v1h-1zM436,237h1v1h-1zM437,238h1v1h-1zM438,239h1v1h-1zM439,240h1v1h-1zM440,241h1v1h-1zM441,242h1v1h-1zM442,241h1v1h-1zM443,241h1v1h-1zM444,240h1v1h-1zM445,239h1v1h-1zM446,238h1v1h-1zM447,238h1v1h-1zM448,237h1v1h-1zM449,237h1v1h-1zM450,236h1v1h-1zM451,237h1v1h-1zM452,237h1v1h-1zM453,238h1v1h-1zM454,238h1v1h-1zM455,239h1v1h-1zM456,239h1v1h-1zM457,240h1v1h-1zM458,240h1v1h-1zM459,241h1v1h-1zM460,242h1v1h-1zM461,243h1v1h-1zM462,243h1v1h-1zM463,244h1v1h-1zM464,245h1v1h-1zM465,244h1v1h-1zM466,242h1v2h-1zM467,241h1v1h-1zM468,239h1v2h-1zM469,236h1v3h-1zM470,233h1v3h-1zM471,231h1v2h-1zM472,229h1v2h-1zM473,231h1v3h-1zM474,234h1v1h-1zM475,235h1v2h-1zM476,237h1v1h-1zM477,238h1v1h-1zM478,239h1v1h-1zM479,240h1v1h-1zM480,240h1v1h-1zM481,241h1v1h-1zM482,241h1v1h-1zM483,242h1v1h-1zM484,242h1v1h-1zM485,242h1v1h-1zM486,242h1v1h-1zM487,242h1v1h-1zM488,242h1v1h-1zM489,241h1v2h-1zM490,240h1v1h-1zM491,238h1v2h-1zM492,236h1v2h-1zM493,235h1v1h-1zM494,233h1v2h-1zM495,232h1v2h-1zM496,234h1v1h-1zM497,235h1v2h-1zM498,237h1v1h-1zM499,238h1v1h-1zM500,238h1v1h-1zM501,239h1v1h-1zM502,239h1v1h-1zM503,240h1v1h-1zM504,241h1v1h-1zM505,242h1v1h-1zM506,243h1v1h-1zM507,243h1v1h-1zM508,244h1v1h-1zM509,245h1v1h-1zM510,244h1v1h-1zM511,244h1v1h-1zM512,243h1v1h-1zM513,242h1v1h-1zM514,242h1v1h-1zM515,241h1v1h-1zM516,241h1v1h-1zM517,240h1v1h-1zM518,240h1v1h-1zM519,241h1v1h-1zM520,242h1v1h-1zM521,243h1v1h-1zM522,244h1v1h-1zM523,244h1v1h-1zM524,245h1v1h-1zM525,245h1v1h-1zM526,246h1v1h-1zM527,246h1v1h-1zM528,246h1v1h-1zM529,247h1v1h-1zM530,247h1v1h-1zM531,247h1v1h-1zM532,247h1v1h-1zM533,248h1v1h-1zM534,248h1v1h-1zM535,248h1v1h-1zM536,246h1v2h-1zM537,245h1v1h-1zM538,243h1v2h-1zM539,242h1v1h-1zM540,240h1v2h-1zM541,239h1v1h-1zM542,238h1v2h-1zM543,240h1v3h-1zM544,243h1v2h-1zM545,245h1v1h-1zM546,246h1v1h-1zM547,246h1v1h-1zM548,247h1v1h-1zM549,248h1v1h-1zM550,248h1v1h-1zM551,249h1v1h-1zM552,249h1v1h-1zM553,249h1v1h-1zM554,249h1v1h-1zM555,250h1v1h-1zM556,250h1v1h-1zM557,250h1v1h-1zM558,249h1v1h-1zM559,247h1v2h-1zM560,246h1v1h-1zM561,245h1v1h-1zM562,244h1v1h-1zM563,244h1v1h-1zM564,243h1v1h-1zM565,242h1v2h-1zM566,244h1v3h-1zM567,247h1v1h-1zM568,247h1v1h-1zM569,248h1v1h-1zM570,248h1v1h-1zM571,248h1v1h-1zM572,249h1v1h-1zM573,249h1v1h-1zM574,249h1v1h-1zM575,250h1v1h-1zM576,250h1v1h-1zM577,251h1v1h-1zM578,251h1v1h-1zM579,252h1v1h-1zM580,252h1v1h-1zM581,251h1v1h-1zM582,250h1v1h-1zM583,249h1v1h-1zM584,248h1v1h-1zM585,247h1v1h-1zM586,247h1v1h-1zM587,246h1v1h-1zM588,247h1v2h-1zM589,249h1v1h-1zM590,250h1v1h-1zM591,251h1v1h-1zM592,251h1v1h-1zM593,252h1v1h-1zM594,252h1v1h-1zM595,252h1v1h-1zM596,252h1v1h-1zM597,253h1v1h-1zM598,253h1v1h-1zM599,253h1v1h-1zM600,254h1v1h-1zM601,254h1v1h-1zM602,254h1v1h-1zM603,253h1v1h-1zM604,253h1v1h-1zM605,251h1v2h-1zM606,250h1v1h-1zM607,248h1v2h-1zM608,247h1v1h-1zM609,246h1v1h-1zM610,245h1v2h-1zM611,247h1v3h-1zM612,250h1v1h-1zM613,251h1v1h-1zM614,251h1v1h-1zM615,252h1v1h-1zM616,253h1v1h-1zM617,253h1v1h-1zM618,254h1v1h-1zM619,255h1v1h-1zM620,255h1v1h-1zM621,256h1v1h-1zM622,256h1v1h-1zM623,257h1v1h-1zM624,257h1v1h-1zM625,257h1v1h-1zM626,257h1v1h-1zM627,257h1v1h-1zM628,257h1v1h-1zM629,257h1v1h-1zM630,256h1v1h-1zM631,255h1v1h-1zM632,255h1v1h-1zM633,255h1v1h-1zM634,255h1v1h-1zM635,256h1v1h-1zM636,256h1v1h-1zM637,257h1v1h-1zM638,257h1v1h-1zM639,258h1v1h-1zM640,258h1v1h-1zM641,259h1v1h-1zM642,259h1v1h-1zM643,260h1v1h-1zM644,260h1v1h-1zM645,261h1v1h-1zM646,261h1v1h-1zM647,262h1v1h-1zM648,262h1v1h-1zM649,261h1v1h-1zM650,261h1v1h-1zM651,259h1v2h-1zM652,256h1v3h-1zM653,254h1v2h-1zM654,253h1v1h-1zM655,252h1v1h-1zM656,251h1v2h-1zM657,253h1v1h-1zM658,254h1v2h-1zM659,256h1v2h-1zM660,258h1v1h-1zM661,258h1v1h-1zM662,259h1v1h-1zM663,259h1v1h-1zM664,260h1v1h-1zM665,260h1v1h-1zM666,260h1v1h-1zM667,261h1v1h-1zM668,261h1v1h-1zM669,261h1v1h-1zM670,261h1v1h-1zM671,262h1v1h-1zM672,262h1v1h-1zM673,261h1v1h-1zM674,260h1v1h-1zM675,259h1v1h-1zM676,258h1v1h-1zM677,257h1v1h-1zM678,256h1v1h-1zM679,257h1v1h-1zM680,258h1v1h-1zM681,259h1v1h-1zM682,260h1v1h-1zM683,261h1v1h-1zM684,261h1v1h-1zM685,262h1v1h-1zM686,262h1v1h-1zM687,263h1v1h-1zM688,263h1v1h-1zM689,264h1v1h-1zM690,264h1v1h-1zM691,265h1v1h-1zM692,265h1v1h-1zM693,266h1v1h-1zM694,266h1v1h-1zM695,265h1v1h-1zM696,265h1v1h-1zM697,264h1v1h-1zM698,263h1v1h-1zM699,263h1v1h-1zM700,262h1v1h-1zM701,261h1v1h-1zM702,260h1v1h-1zM703,259h1v2h-1zM704,261h1v1h-1zM705,262h1v2h-1zM706,264h1v1h-1zM707,265h1v1h-1zM708,265h1v1h-1zM709,266h1v1h-1zM710,267h1v1h-1zM711,267h1v1h-1zM712,268h1v1h-1zM713,268h1v1h-1zM714,269h1v1h-1zM715,269h1v1h-1zM716,270h1v1h-1zM717,270h1v1h-1zM718,269h1v1h-1zM719,267h1v2h-1zM720,266h1v1h-1zM721,265h1v1h-1zM722,264h1v1h-1zM723,263h1v1h-1zM724,262h1v1h-1zM725,263h1v2h-1zM726,265h1v15h-1zM727,279h1v12h-1zM728,290h1v13h-1zM729,302h1v11h-1zM730,312h1v13h-1zM731,324h1v12h-1zM732,335h1v8h-1zM733,330h1v11h-1zM734,323h1v8h-1zM735,320h1v4h-1zM736,323h1v4h-1zM737,326h1v12h-1zM738,337h1v21h-1zM739,357h1v7h-1zM740,332h1v32h-1zM741,303h1v30h-1zM742,285h1v19h-1zM743,281h1v5h-1zM744,281h1v1h-1zM745,281h1v1h-1zM746,281h1v1h-1zM747,281h1v1h-1zM748,281h1v1h-1zM749,281h1v1h-1zM750,282h1v1h-1zM751,282h1v1h-1zM752,282h1v1h-1zM753,282h1v1h-1zM754,283h1v1h-1zM755,282h1v1h-1zM756,283h1v1h-1zM757,283h1v1h-1zM758,283h1v1h-1z"/>
</g>
<path d="M90.5,60.5H800.5V509.5H90.5Z M90.5,510V515 M90.5,54V60 M113.5,510V512 M113.5,57V60 M137.5,510V512 M137.5,57V60 M161.5,510V515 M161.5,54V60 M184.5,510V512 M184.5,57V60 M208.5,510V512 M208.5,57V60 M232.5,510V515 M232.5,54V60 M255.5,510V512 M255.5,57V60 M279.5,510V512 M279.5,57V60 M303.5,510V515 M303.5,54V60 M326.5,510V512 M326.5,57V60 M350.5,510V512 M350.5,57V60 M374.5,510V515 M374.5,54V60 M398.5,510V512 M398.5,57V60 M421.5,510V512 M421.5,57V60 M445.5,510V515 M445.5,54V60 M469.5,510V512 M469.5,57V60 M492.5,510V512 M492.5,57V60 M516.5,510V515 M516.5,54V60 M540.5,510V512 M540.5,57V60 M563.5,510V512 M563.5,57V60 M587.5,510V515 M587.5,54V60 M611.5,510V512 M611.5,57V60 M635.5,510V512 M635.5,57V60 M658.5,510V515 M658.5,54V60 M682.5,510V512 M682.5,57V60 M706.5,510V512 M706.5,57V60 M729.5,510V515 M729.5,54V60 M753.5,510V512 M753.5,57V60 M777.5,510V512 M777.5,57V60 M800.5,510V515 M800.5,54V60 M84,503.5H90 M801,503.5H806 M87,488.5H90 M801,488.5H803 M87,473.5H90 M801,473.5H803 M87,459.5H90 M801,459.5H803 M87,444.5H90 M801,444.5H803 M84,429.5H90 M801,429.5H806 M87,414.5H90 M801,414.5H803 M87,399.5H90 M801,399.5H803 M87,385.5H90 M801,385.5H803 M87,370.5H90 M801,370.5H803 M84,355.5H90 M801,355.5H806 M87,340.5H90 M801,340.5H803 M87,325.5H90 M801,325.5H803 M87,311.5H90 M801,311.5H803 M87,296.5H90 M801,296.5H803 M84,281.5H90 M801,281.5H806 M87,266.5H90 M801,266.5H803 M87,251.5H90 M801,251.5H803 M87,237.5H90 M801,237.5H803 M87,222.5H90 M801,222.5H803 M84,207.5H90 M801,207.5H806 M87,192.5H90 M801,192.5H803 M87,177.5H90 M801,177.5H803 M87,163.5H90 M801,163.5H803 M87,148.5H90 M801,148.5H803 M84,133.5H90 M801,133.5H806 M87,118.5H90 M801,118.5H803 M87,103.5H90 M801,103.5H803 M87,89.5H90 M801,89.5H803 M87,74.5H90 M801,74.5H803" fill="none" stroke="#000" stroke-width="1" shape-rendering="crispEdges"/>
<g font-size="11px">
<text x="54.3" y="507.3" textLength="28.2" lengthAdjust="spacing">23.00</text>
<text x="809" y="507.3" textLength="28.3" lengthAdjust="spacing">23.00</text>
<text x="54.3" y="433.3" textLength="28.2" lengthAdjust="spacing">24.00</text>
<text x="809" y="433.3" textLength="28.3" lengthAdjust="spacing">24.00</text>
<text x="54.3" y="359.3" textLength="28.2" lengthAdjust="spacing">25.00</text>
<text x="809" y="359.3" textLength="28.3" lengthAdjust="spacing">25.00</text>
<text x="54.3" y="285.3" textLength="28.2" lengthAdjust="spacing">26.00</text>
<text x="809" y="285.3" textLength="28.3" lengthAdjust="spacing">26.00</text>
<text x="54.3" y="211.3" textLength="28.2" lengthAdjust="spacing">27.00</text>
<text x="809" y="211.3" textLength="28.3" lengthAdjust="spacing">27.00</text>
<text x="54.3" y="137.3" textLength="28.2" lengthAdjust="spacing">28.00</text>
<text x="809" y="137.3" textLength="28.3" lengthAdjust="spacing">28.00</text>
<text x="75.0" y="526.6" textLength="31.9" lengthAdjust="spacing">01Mar</text>
<text x="146.0" y="526.6" textLength="31.9" lengthAdjust="spacing">04Mar</text>
<text x="217.0" y="526.6" textLength="31.9" lengthAdjust="spacing">07Mar</text>
<text x="288.0" y="526.6" textLength="31.9" lengthAdjust="spacing">10Mar</text>
<text x="359.0" y="526.6" textLength="31.9" lengthAdjust="spacing">13Mar</text>
<text x="430.0" y="526.6" textLength="31.9" lengthAdjust="spacing">16Mar</text>
<text x="501.0" y="526.6" textLength="31.9" lengthAdjust="spacing">19Mar</text>
<text x="572.0" y="526.6" textLength="31.9" lengthAdjust="spacing">22Mar</text>
<text x="643.0" y="526.6" textLength="31.9" lengthAdjust="spacing">25Mar</text>
<text x="714.0" y="526.6" textLength="31.9" lengthAdjust="spacing">28Mar</text>
<text x="785.0" y="526.6" textLength="31.9" lengthAdjust="spacing">31Mar</text>
<text x="190" y="549" textLength="52.6" lengthAdjust="spacing">CO2_temp</text><text x="190" y="561" textLength="44.4" lengthAdjust="spacing">Air_temp</text><text x="190" y="573" textLength="45.6" lengthAdjust="spacing">O2_temp</text>
<text transform="translate(47.3,333) rotate(-90)" font-size="11.5px" textLength="95.5" lengthAdjust="spacing">Temperature (°C)</text>
<text x="365.5" y="49" textLength="159.5" lengthAdjust="spacing">PIRATA 8N,38W – Last 30 days</text>
</g>
<text x="405" y="30" font-size="12.6px" textLength="81.5" lengthAdjust="spacing">Temperatures</text>
<g stroke-width="1" shape-rendering="crispEdges"><path d="M90,545.5H178" stroke="#f00"/><path d="M90,557.5H178" stroke="#00f"/><path d="M90,569.5H178" stroke="#0f0"/></g>
</svg></body></html>
